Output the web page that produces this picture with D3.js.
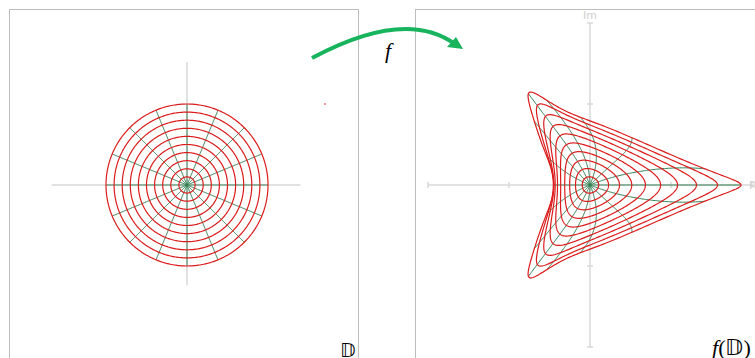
<!DOCTYPE html>
<html><head><meta charset="utf-8">
<script src="https://cdn.jsdelivr.net/npm/d3@7"></script>
<style>body{margin:0;background:#fff}svg{display:block}</style>
</head><body>
<script>
// Polar mesh of the unit disk: circle radii and ray angles (degrees)
const ringRadii = [0.1,0.2,0.3,0.4,0.5,0.6,0.7,0.8,0.9,1.0];
const rayAngles = [0,22.5,45,67.5,90,112.5,135,157.5,180,202.5,225,247.5,270,292.5,315,337.5];
// Harmonic map f = h + conj(g): coefficients of z^1..z^8
const hCoeffs = [1.0135, 0.2455, 0.0195, 0.0585, -0.001, -0.015, -0.0035, 0.0015];
const gCoeffs = [0.0015, 0.377, 0.096, 0.0275, 0.037, 0.0145, -0.0075, -0.0005];
// Axis ticks of the image plane
const imageTicks = [-2,-1,1,2];

function f(re, im){
  let zr=1, zi=0, sr=0, si=0;
  for(let k=0;k<hCoeffs.length;k++){
    const nr=zr*re-zi*im, ni=zr*im+zi*re; zr=nr; zi=ni;
    sr += (hCoeffs[k]+gCoeffs[k])*zr;
    si += (hCoeffs[k]-gCoeffs[k])*zi;
  }
  return [sr, si];
}

const W=755, H=358;
const svg=d3.select("body").append("svg").attr("width",W).attr("height",H);
svg.append("rect").attr("x",9.5).attr("y",9.5).attr("width",349).attr("height",360).attr("fill","none").attr("stroke","#bdbdbd");
svg.append("rect").attr("x",415.5).attr("y",9.5).attr("width",360).attr("height",360).attr("fill","none").attr("stroke","#bdbdbd");

// domain plane (left) and image plane (right)
const xL=d3.scaleLinear().domain([-1,1]).range([106,268]);
const yL=d3.scaleLinear().domain([-1,1]).range([266,104]);
const xR=d3.scaleLinear().domain([-2,2]).range([428,752]);
const yR=d3.scaleLinear().domain([-2,2]).range([347,23]);

const axisCol="#d9d9d9";
const gL=svg.append("g");
gL.append("line").attr("x1",xL(-1.67)).attr("x2",xL(1.4)).attr("y1",yL(0)).attr("y2",yL(0)).attr("stroke",axisCol).attr("stroke-width",1.5);
gL.append("line").attr("x1",xL(0)).attr("x2",xL(0)).attr("y1",yL(1.52)).attr("y2",yL(-1.24)).attr("stroke",axisCol).attr("stroke-width",1.5);

const gR=svg.append("g");
gR.append("line").attr("x1",xR(-2)).attr("x2",xR(2)).attr("y1",yR(0)).attr("y2",yR(0)).attr("stroke",axisCol).attr("stroke-width",1.5);
gR.append("line").attr("x1",xR(0)).attr("x2",xR(0)).attr("y1",yR(2)).attr("y2",yR(-2)).attr("stroke",axisCol).attr("stroke-width",1.5);
imageTicks.forEach(t=>{
  gR.append("line").attr("x1",xR(t)).attr("x2",xR(t)).attr("y1",yR(0)-3).attr("y2",yR(0)+3).attr("stroke",axisCol).attr("stroke-width",1.5);
  gR.append("line").attr("x1",xR(0)-3).attr("x2",xR(0)+3).attr("y1",yR(t)).attr("y2",yR(t)).attr("stroke",axisCol).attr("stroke-width",1.5);
});
gR.append("text").attr("x",xR(0)).attr("y",yR(2)-4).attr("text-anchor","middle").attr("font-family","DejaVu Sans").attr("font-size",11).attr("fill","#cfcfcf").text("Im");
gR.append("text").attr("x",xR(2)-3).attr("y",yR(0)+4).attr("font-family","DejaVu Sans").attr("font-size",11).attr("fill","#cfcfcf").text("Re");

const line=d3.line();
const green="#2e7d4f", red="#dc1c1c";
function drawMesh(g, map, sx, sy){
  rayAngles.forEach(a=>{
    const t=a*Math.PI/180;
    const pts=d3.range(0,1.0001,0.01).map(r=>{const w=map(r*Math.cos(t),r*Math.sin(t));return [sx(w[0]),sy(w[1])];});
    g.append("path").attr("d",line(pts)).attr("fill","none").attr("stroke",green).attr("stroke-width",1);
  });
  ringRadii.forEach(r=>{
    const pts=d3.range(0,361,1).map(d=>{const t=d*Math.PI/180;const w=map(r*Math.cos(t),r*Math.sin(t));return [sx(w[0]),sy(w[1])];});
    g.append("path").attr("d",line(pts)).attr("fill","none").attr("stroke",red).attr("stroke-width",1.2);
  });
}
drawMesh(svg.append("g"), (a,b)=>[a,b], xL, yL);
drawMesh(svg.append("g"), f, xR, yR);

// arrow labelled f
const arrowCol="#17b35d";
svg.append("path").attr("d","M312,58 Q405,8 455,44").attr("fill","none").attr("stroke",arrowCol).attr("stroke-width",4);
svg.append("path").attr("d","M463,49 L447,47 L456,37 Z").attr("fill",arrowCol);
svg.append("text").attr("x",388).attr("y",58).attr("text-anchor","middle").attr("font-family","Liberation Serif").attr("font-style","italic").attr("font-size",22).text("f");
svg.append("circle").attr("cx",325).attr("cy",104).attr("r",0.8).attr("fill",red);

svg.append("text").attr("x",340).attr("y",357).attr("font-family","DejaVu Sans").attr("font-size",19).text("𝔻");
svg.append("text").attr("x",712).attr("y",355).attr("font-family","Liberation Serif").attr("font-size",22).html('<tspan font-style="italic">f</tspan>(𝔻)');
</script>
</body></html>
